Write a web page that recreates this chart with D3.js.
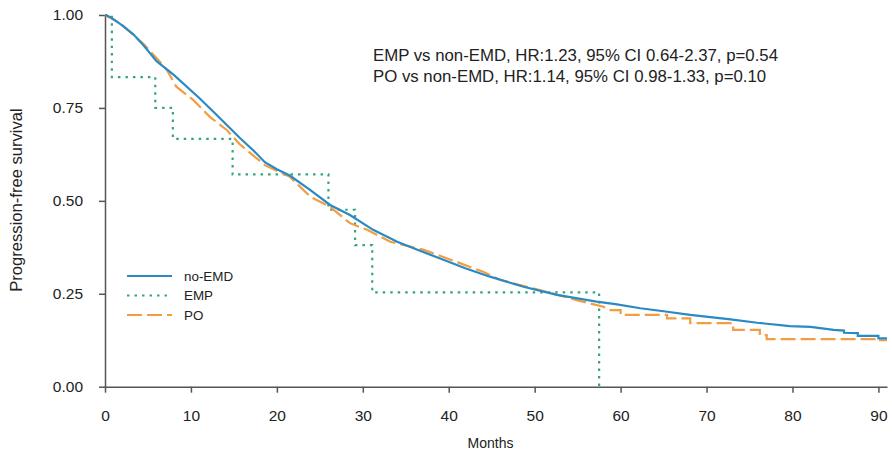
<!DOCTYPE html>
<html>
<head>
<meta charset="utf-8">
<script src="https://cdn.jsdelivr.net/npm/d3@7"></script>
<style>
  body { margin: 0; background: #fff; }
  text { font-family: "Liberation Sans", Arial, sans-serif; fill: #222; }
</style>
</head>
<body>
<div id="plot-container"></div>
<script>
// Kaplan-Meier curves, months vs progression-free survival
const noEmdTime = [0, 0.6, 2, 3.3, 4.5, 6, 8, 11, 13, 15.7, 17.3, 18.6, 20, 21.5, 23.9, 26.2, 28.5, 31.2, 34, 36.5, 39, 42, 44.8, 48.7, 52.6, 57.2, 59.4, 62.3, 65, 68.1, 72.8, 75.9, 79.7, 82.1, 84.8, 86, 86, 87.6, 87.6, 90, 90, 91];
const noEmdSurv = [1, 0.995, 0.972, 0.948, 0.918, 0.876, 0.839, 0.776, 0.731, 0.669, 0.635, 0.604, 0.585, 0.568, 0.529, 0.489, 0.462, 0.422, 0.39, 0.367, 0.345, 0.318, 0.296, 0.269, 0.247, 0.229, 0.222, 0.211, 0.203, 0.193, 0.181, 0.172, 0.163, 0.161, 0.153, 0.151, 0.145, 0.144, 0.137, 0.137, 0.13, 0.13];

const poTime = [0, 1.75, 4.4, 6.2, 7.2, 8.3, 10.3, 12.2, 14.2, 15.7, 18.6, 21.5, 23.9, 26.2, 28.5, 30.5, 33.2, 37.1, 40.9, 44, 46, 50.6, 54.9, 58, 58.8, 60, 60, 65.4, 65.4, 68.1, 68.1, 73.1, 73.1, 76.2, 76.2, 77, 77, 90.2, 90.2, 91];
const poSurv = [1, 0.978, 0.924, 0.879, 0.852, 0.807, 0.771, 0.726, 0.69, 0.652, 0.596, 0.565, 0.511, 0.484, 0.44, 0.422, 0.39, 0.368, 0.336, 0.309, 0.287, 0.26, 0.233, 0.215, 0.206, 0.206, 0.193, 0.193, 0.184, 0.184, 0.171, 0.171, 0.153, 0.153, 0.139, 0.139, 0.128, 0.128, 0.125, 0.125];

const empTime = [0, 0.8, 5.85, 7.9, 14.85, 26, 29.1, 31.1, 57.5];
const empSurv = [1, 0.833, 0.75, 0.667, 0.571, 0.476, 0.381, 0.254, 0];

const xTicks = [0, 10, 20, 30, 40, 50, 60, 70, 80, 90];
const yTicks = [0, 0.25, 0.5, 0.75, 1];
const seriesNames = ["no-EMD", "EMP", "PO"];
const hrLines = [
    "EMP vs non-EMD, HR:1.23, 95% CI 0.64-2.37, p=0.54",
    "PO vs non-EMD, HR:1.14, 95% CI 0.98-1.33, p=0.10"
];

const colors = {"no-EMD": "#2a8ac4", "EMP": "#35a67c", "PO": "#f29d42"};
const dashes = {"no-EMD": null, "EMP": "2.5,5", "PO": "15,5"};

margin = {top: 15, right: 5, bottom: 64.3, left: 105},
    width = 892 - margin.left - margin.right,
    height = 451 - margin.top - margin.bottom;

svg = d3.select("#plot-container")
  .append("svg")
    .attr("width", 892)
    .attr("height", 451)
  .append("g")
    .attr("transform", "translate(" + margin.left + "," + margin.top + ")");

const x = d3.scaleLinear().domain([0, 91]).range([0, width]);
const y = d3.scaleLinear().domain([0, 1]).range([height, 0]);

// axes
const xAxis = svg.append("g")
    .attr("transform", `translate(0, ${height})`)
    .call(d3.axisBottom(x).tickValues(xTicks).tickSize(6).tickSizeOuter(0).tickPadding(17));
const yAxis = svg.append("g")
    .call(d3.axisLeft(y).tickValues(yTicks).tickFormat(d3.format(".2f")).tickSize(6).tickSizeOuter(0).tickPadding(16));

[xAxis, yAxis].forEach(a => {
    a.select(".domain").attr("stroke", "#555").attr("stroke-width", 1.5);
    a.selectAll(".tick line").attr("stroke", "#555").attr("stroke-width", 1.5);
    a.selectAll(".tick text").attr("font-size", 15.5).attr("fill", "#222")
        .attr("font-family", '"Liberation Sans", Arial, sans-serif');
});

// curves
const series = [
    {name: "no-EMD", t: noEmdTime, s: noEmdSurv, curve: d3.curveLinear},
    {name: "EMP", t: empTime, s: empSurv, curve: d3.curveStepAfter},
    {name: "PO", t: poTime, s: poSurv, curve: d3.curveLinear}
];

// draw EMP first, then PO, then no-EMD on top
[series[1], series[2], series[0]].forEach(sr => {
    const line = d3.line()
        .x(d => x(d[0]))
        .y(d => y(d[1]))
        .curve(sr.curve);
    svg.append("path")
        .datum(sr.t.map((t, i) => [t, sr.s[i]]))
        .attr("fill", "none")
        .attr("stroke", colors[sr.name])
        .attr("stroke-width", 2.2)
        .attr("stroke-dasharray", dashes[sr.name])
        .attr("d", line);
});

// axis titles
svg.append("text")
    .attr("text-anchor", "middle")
    .attr("x", 385.5)
    .attr("y", height + 61)
    .attr("font-size", 14)
    .text("Months");

svg.append("text")
    .attr("text-anchor", "middle")
    .attr("transform", "rotate(-90)")
    .attr("x", -(200 - margin.top))
    .attr("y", -margin.left + 21.5)
    .attr("font-size", 16.6)
    .text("Progression-free survival");

// legend
const legend = svg.append("g").attr("transform", "translate(22, 261)");
seriesNames.forEach((name, i) => {
    legend.append("line")
        .attr("x1", 0).attr("x2", 45)
        .attr("y1", i * 19.5).attr("y2", i * 19.5)
        .attr("stroke", colors[name])
        .attr("stroke-width", 2.2)
        .attr("stroke-dasharray", dashes[name]);
    legend.append("text")
        .attr("x", 57)
        .attr("y", i * 19.5)
        .attr("dy", "0.35em")
        .attr("font-size", 13.4)
        .text(name);
});

// hazard ratio annotation
hrLines.forEach((txt, i) => {
    svg.append("text")
        .attr("x", 268)
        .attr("y", 46 + i * 20.5)
        .attr("font-size", 16.8)
        .text(txt);
});
</script>
</body>
</html>
